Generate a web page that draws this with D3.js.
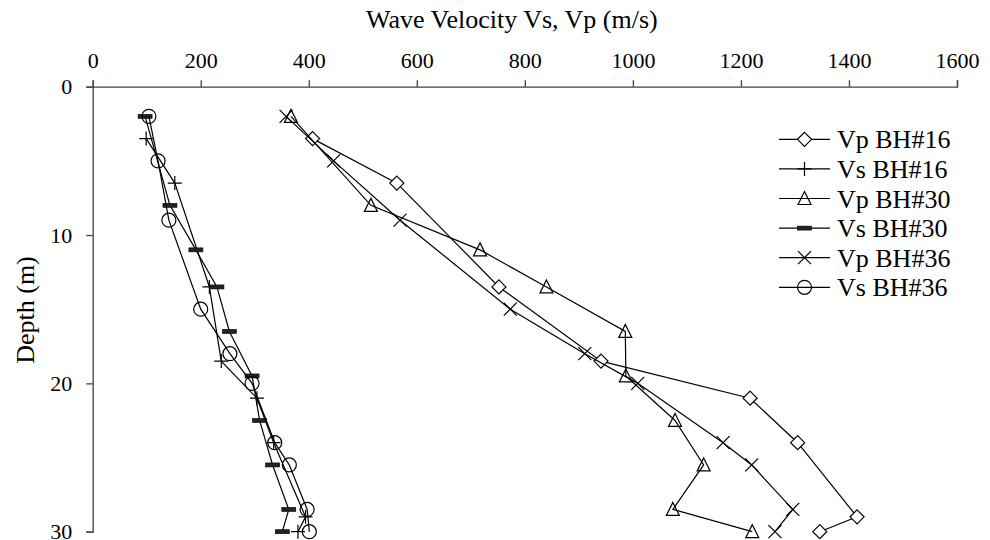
<!DOCTYPE html>
<html>
<head>
<meta charset="utf-8">
<script src="https://cdn.jsdelivr.net/npm/d3@7/dist/d3.min.js"></script>
<style>
  body { margin: 0; background: #fff; }
  svg { font-family: "Liberation Serif", "Times New Roman", serif; }
</style>
</head>
<body>
<svg id="chart" width="990" height="540"></svg>
<script>
// depth (m) and velocity (m/s) for each borehole
var vp16Depth = [3.5, 6.5, 13.5, 18.5, 21, 24, 29, 30];
var vp16 = [407, 563, 752, 941, 1217, 1305, 1415, 1346];
var vs16Depth = [3.5, 6.5, 13.5, 18.5, 21, 24, 29, 30];
var vs16 = [99, 152, 216, 238, 304, 335, 394, 380];
var vp30Depth = [2, 8, 11, 13.5, 16.5, 19.5, 22.5, 25.5, 28.5, 30];
var vp30 = [367, 515, 717, 840, 986, 987, 1078, 1131, 1074, 1221];
var vs30Depth = [2, 8, 11, 13.5, 16.5, 19.5, 22.5, 25.5, 28.5, 30];
var vs30 = [97, 143, 191, 230, 253, 295, 309, 333, 363, 351];
var vp36Depth = [2, 5, 9, 15, 18, 20, 24, 25.5, 28.5, 30];
var vp36 = [358, 446, 569, 773, 911, 1009, 1167, 1220, 1296, 1263];
var vs36Depth = [2, 5, 9, 15, 18, 20, 24, 25.5, 28.5, 30];
var vs36 = [104, 121, 141, 200, 254, 295, 337, 364, 397, 401];

var seriesNames = ["Vp BH#16", "Vs BH#16", "Vp BH#30", "Vs BH#30", "Vp BH#36", "Vs BH#36"];
var xTicks = [0, 200, 400, 600, 800, 1000, 1200, 1400, 1600];
var yTicks = [0, 10, 20, 30];

var series = [
  {name: seriesNames[0], depth: vp16Depth, v: vp16, marker: "diamond"},
  {name: seriesNames[1], depth: vs16Depth, v: vs16, marker: "plus"},
  {name: seriesNames[2], depth: vp30Depth, v: vp30, marker: "triangle"},
  {name: seriesNames[3], depth: vs30Depth, v: vs30, marker: "dash"},
  {name: seriesNames[4], depth: vp36Depth, v: vp36, marker: "cross"},
  {name: seriesNames[5], depth: vs36Depth, v: vs36, marker: "circle"}
];

var svg = d3.select("#chart"),
  margin = {top: 86.7, left: 92.7},
  width = 864.3,
  height = 445,
  g = svg.append("g").attr("transform", "translate(" + margin.left + "," + margin.top + ")");

var x = d3.scaleLinear().domain([0, 1600]).range([0, width]);
var y = d3.scaleLinear().domain([0, 30]).range([0, height]);

var axisColor = "#404040";

var xAxis = g.append("g")
  .call(d3.axisTop(x).tickValues(xTicks).tickFormat(d3.format("d"))
    .tickSize(6.5).tickPadding(12).tickSizeOuter(6.5));
var yAxis = g.append("g")
  .call(d3.axisLeft(y).tickValues(yTicks).tickFormat(d3.format("d"))
    .tickSize(6.5).tickPadding(14).tickSizeOuter(6.5));

[xAxis, yAxis].forEach(function(a) {
  a.selectAll("path, line").attr("stroke", axisColor).attr("stroke-width", 1.3);
  a.selectAll("text").attr("fill", "#000").style("font-size", "22px")
    .style("font-family", "'Liberation Serif', 'Times New Roman', serif");
});
yAxis.selectAll("text").attr("dy", "0.33em");

svg.append("text")
  .attr("x", margin.left + width / 2 - 13)
  .attr("y", 28)
  .attr("text-anchor", "middle")
  .style("font-size", "26px")
  .text("Wave Velocity Vs, Vp (m/s)");

svg.append("text")
  .attr("transform", "translate(34,310) rotate(-90)")
  .attr("text-anchor", "middle")
  .style("font-size", "26px")
  .text("Depth (m)");

function drawMarker(sel, type) {
  if (type == "diamond") {
    sel.append("path").attr("d", "M0,-7L7,0L0,7L-7,0Z")
      .attr("fill", "#fff").attr("stroke", "#000").attr("stroke-width", 1.2);
  } else if (type == "plus") {
    sel.append("path").attr("d", "M-7,0H7M0,-7V7")
      .attr("fill", "none").attr("stroke", "#000").attr("stroke-width", 1.2);
  } else if (type == "triangle") {
    sel.append("path").attr("d", "M0,-7L6.5,6L-6.5,6Z")
      .attr("fill", "none").attr("stroke", "#000").attr("stroke-width", 1.2);
  } else if (type == "dash") {
    sel.append("rect").attr("x", -7).attr("y", -2).attr("width", 14).attr("height", 4)
      .attr("fill", "#222").attr("stroke", "#000").attr("stroke-width", 0.6);
  } else if (type == "cross") {
    sel.append("path").attr("d", "M-6.5,-6.5L6.5,6.5M-6.5,6.5L6.5,-6.5")
      .attr("fill", "none").attr("stroke", "#000").attr("stroke-width", 1.2);
  } else if (type == "circle") {
    sel.append("circle").attr("r", 7)
      .attr("fill", "none").attr("stroke", "#000").attr("stroke-width", 1.2);
  }
}

var line = d3.line()
  .x(function(d) { return x(d.v); })
  .y(function(d) { return y(d.depth); });

for (var i = 0; i < series.length; i++) {
  var s = series[i];
  var pts = [];
  for (var j = 0; j < s.v.length; j++) {
    pts.push({depth: s.depth[j], v: s.v[j]});
  }
  g.append("path")
    .datum(pts)
    .attr("fill", "none")
    .attr("stroke", "#000")
    .attr("stroke-width", 1.2)
    .attr("d", line);
  for (var j = 0; j < pts.length; j++) {
    var m = g.append("g").attr("transform", "translate(" + x(pts[j].v) + "," + y(pts[j].depth) + ")");
    drawMarker(m, s.marker);
  }
}

// legend
var legend = svg.append("g").attr("transform", "translate(779,139.3)");
for (var i = 0; i < series.length; i++) {
  var row = legend.append("g").attr("transform", "translate(0," + (i * 29.6) + ")");
  row.append("line").attr("x1", 0).attr("x2", 51).attr("y1", 0).attr("y2", 0)
    .attr("stroke", "#000").attr("stroke-width", 1.2);
  drawMarker(row.append("g").attr("transform", "translate(25.5,0)"), series[i].marker);
  row.append("text").attr("x", 58).attr("dy", "0.35em")
    .style("font-size", "26px").text(series[i].name);
}
</script>
</body>
</html>
